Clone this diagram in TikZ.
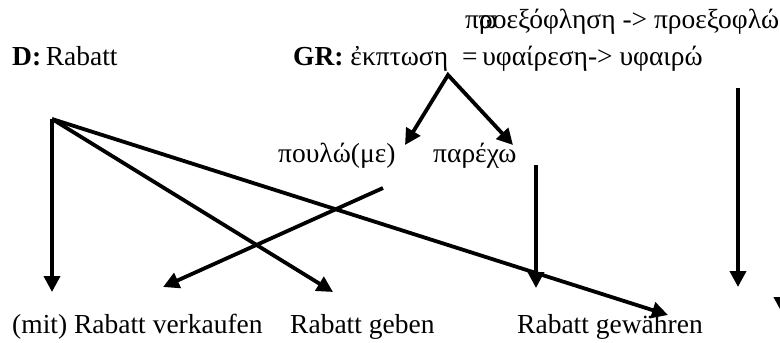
\documentclass[tikz,border=0pt]{standalone}
\usepackage{fontspec}
\setmainfont{Liberation Serif}
\newfontfamily\grk{Liberation Serif}
\usetikzlibrary{arrows.meta}
\begin{document}
\begin{tikzpicture}[x=1pt,y=-1pt,
  lat/.style={inner sep=0pt,anchor=base west,font=\fontsize{27.5}{30}\selectfont},
  gk/.style={inner sep=0pt,anchor=base west,font=\grk\fontsize{27.5}{30}\selectfont},
  conn/.style={line width=3.8pt,-{Triangle[length=16pt,width=16pt]}},
  conn2/.style={line width=3.8pt,line join=miter,{Triangle[length=16pt,width=16pt]}-{Triangle[length=16pt,width=16pt]}}]
\useasboundingbox (0,0) rectangle (780,343);
\clip (0,0) rectangle (780,343);
% texts
\node[gk] (top) at (465,28) {π\makebox[0pt][l]{ϖ}ροεξόφληση -> προεξοφλώ};
\node[lat] (d) at (12,65) {\textbf{D:}\,Rabatt};
\node[lat] (gr) at (293,65) {\textbf{GR:} {\grk ἐκπτωση}};
\node[gk] (gr2) at (462,65) {=\,υφαίρεση-> υφαιρώ};
\node[gk] (pou) at (278,162) {πουλώ(με)};
\node[gk] (par) at (433,162) {παρέχω};
\node[lat] (b1) at (12,333) {(mit) Rabatt verkaufen};
\node[lat] (b2) at (290,333) {Rabatt geben};
\node[lat] (b3) at (517,333) {Rabatt gewähren};
% coordinates
\coordinate (S) at (52,119);
\coordinate (t1) at (52,292);
\coordinate (t2) at (333,292);
\coordinate (t3) at (668,315);
\coordinate (c0) at (383,188);
\coordinate (t4) at (163,287);
\coordinate (apex) at (448,75);
\coordinate (t5) at (405,145);
\coordinate (t6) at (513,145);
\coordinate (p0) at (536,165);
\coordinate (t7) at (536,288);
\coordinate (r0) at (738,88);
\coordinate (t8) at (738,287);
\coordinate (e0) at (782,100);
\coordinate (t9) at (782,313);
% connectors
\draw[conn] (S) -- (t1);
\draw[conn] (S) -- (t2);
\draw[conn] (S) -- (t3);
\draw[conn] (c0) -- (t4);
\draw[conn2] (t5) -- (apex) -- (t6);
\draw[conn] (p0) -- (t7);
\draw[conn] (r0) -- (t8);
\draw[conn] (e0) -- (t9);
\end{tikzpicture}
\end{document}
